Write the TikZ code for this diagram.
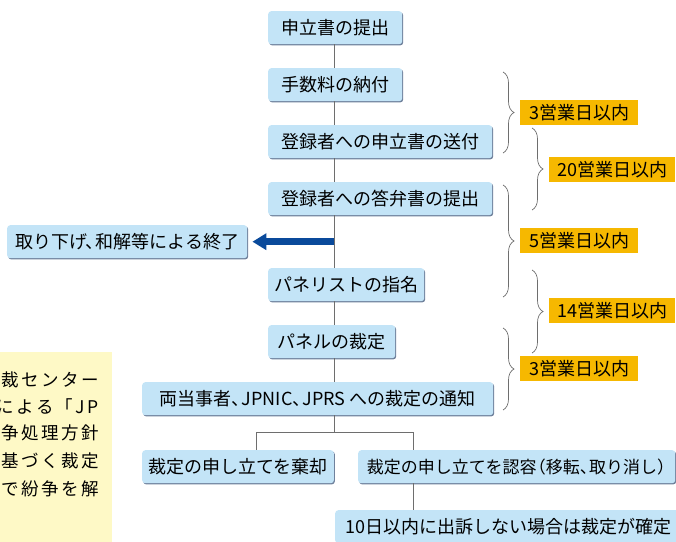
\documentclass[tikz,border=0pt]{standalone}
\usepackage{fontspec}
\setmainfont{Noto Sans CJK JP}
\newfontfamily\notefont[LetterSpace=14]{Noto Sans CJK JP}
\usetikzlibrary{arrows.meta,decorations.pathreplacing,shadows}
\definecolor{boxblue}{HTML}{C3E4F7}
\definecolor{boxshade}{HTML}{6F819C}
\definecolor{lblorange}{HTML}{F6B800}
\definecolor{noteyellow}{HTML}{FEF9C6}
\definecolor{linegray}{HTML}{6E6E6E}
\definecolor{arrowblue}{HTML}{0A4A9B}
\newcommand\jtou{、\kern-.45em}
\newcommand\jlp{\kern-.45em（}
\newcommand\jrp{）\kern-.45em}
\begin{document}
\begin{tikzpicture}[x=1pt,y=-1pt,
  flowbox/.style={fill=boxblue, rounded corners=3pt,
    drop shadow={shadow xshift=1pt, shadow yshift=-1.2pt, fill=boxshade, opacity=1},
    minimum height=33pt, inner xsep=6pt, inner ysep=0pt, anchor=north west,
    font=\fontsize{18}{20}\selectfont},
  daylabel/.style={fill=lblorange, minimum height=25pt, inner sep=0pt, anchor=north west,
    font=\fontsize{18}{20}\selectfont},
  conn/.style={draw=linegray, line width=0.8pt},
  dayspan/.style={draw=linegray, line width=0.7pt, decorate, decoration={brace, amplitude=11pt}},
  exitarrow/.style={draw=arrowblue, line width=6.5pt, -{Triangle[length=14pt,width=16pt]}},
  notetext/.style={anchor=east, inner sep=0pt, font=\notefont\fontsize{17.5}{19}\selectfont}
]
\useasboundingbox (0,0) rectangle (676,541);

% note box (cut off on the left, as in the reference)
\node[fill=noteyellow, minimum width=112pt, minimum height=195pt, anchor=north west, inner sep=0pt] (note) at (0,352) {};
\node[notetext] (n1) at (99,380) {裁センター};
\node[notetext] (n2) at (99,406) {による「JP};
\node[notetext] (n3) at (99,433) {争処理方針};
\node[notetext] (n4) at (99,461) {基づく裁定};
\node[notetext] (n5) at (99,489) {で紛争を解};

% flow boxes
\node[flowbox, minimum width=134pt] (b1) at (268,11) {申立書の提出};
\node[flowbox, minimum width=134pt] (b2) at (268,68) {手数料の納付};
\node[flowbox, minimum width=224pt] (b3) at (268,125) {登録者への申立書の送付};
\node[flowbox, minimum width=224pt] (b4) at (268,182) {登録者への答弁書の提出};
\node[flowbox, minimum width=240pt] (b5) at (7,225) {取り下げ\jtou 和解等による終了};
\node[flowbox, minimum width=149pt] (b6) at (268,268) {パネリストの指名};
\node[flowbox, minimum width=127pt] (b7) at (268,325) {パネルの裁定};
\node[flowbox, minimum width=351pt] (b8) at (142,382) {両当事者\jtou JPNIC\jtou JPRS への裁定の通知};
\node[flowbox, minimum width=191pt] (b9) at (142,450) {裁定の申し立てを棄却};
\node[flowbox, minimum width=317pt, inner xsep=3pt, font=\fontsize{17}{19}\selectfont] (b10) at (358,450) {裁定の申し立てを認容\jlp 移転\jtou 取り消し\jrp};
\node[flowbox, inner xsep=10pt] (b11) at (335,510) {10日以内に出訴しない場合は裁定が確定};

% day labels
\node[daylabel, minimum width=118pt] (d1) at (520,100) {3営業日以内};
\node[daylabel, minimum width=126pt] (d2) at (549,157) {20営業日以内};
\node[daylabel, minimum width=118pt] (d3) at (520,228) {5営業日以内};
\node[daylabel, minimum width=126pt] (d4) at (549,298) {14営業日以内};
\node[daylabel, minimum width=118pt] (d5) at (520,356) {3営業日以内};

% braces
\draw[dayspan] (503,72) -- (503,153);
\draw[dayspan] (532,128) -- (532,210);
\draw[dayspan] (503,185) -- (503,297);
\draw[dayspan] (532,270) -- (532,353);
\draw[dayspan] (503,328) -- (503,410);

% connectors
\coordinate (trunk) at (334,0);
\draw[conn] (b1.south -| trunk) -- (b2.north -| trunk);
\draw[conn] (b2.south -| trunk) -- (b3.north -| trunk);
\draw[conn] (b3.south -| trunk) -- (b4.north -| trunk);
\draw[conn] (b4.south -| trunk) -- (b6.north -| trunk);
\draw[conn] (b6.south -| trunk) -- (b7.north -| trunk);
\draw[conn] (b7.south -| trunk) -- (b8.north -| trunk);
\coordinate (fork) at (334,432);
\coordinate (forkL) at (256,432);
\coordinate (forkR) at (413,432);
\draw[conn] (b8.south -| trunk) -- (fork);
\draw[conn] (forkL) -- (forkR);
\draw[conn] (forkL) -- (b9.north -| forkL);
\draw[conn] (forkR) -- (b10.north -| forkR);
\draw[conn] (b10.south -| forkR) -- (b11.north -| forkR);
\draw[exitarrow] (trunk |- b5.east) -- ([xshift=5pt]b5.east);
\end{tikzpicture}
\end{document}
